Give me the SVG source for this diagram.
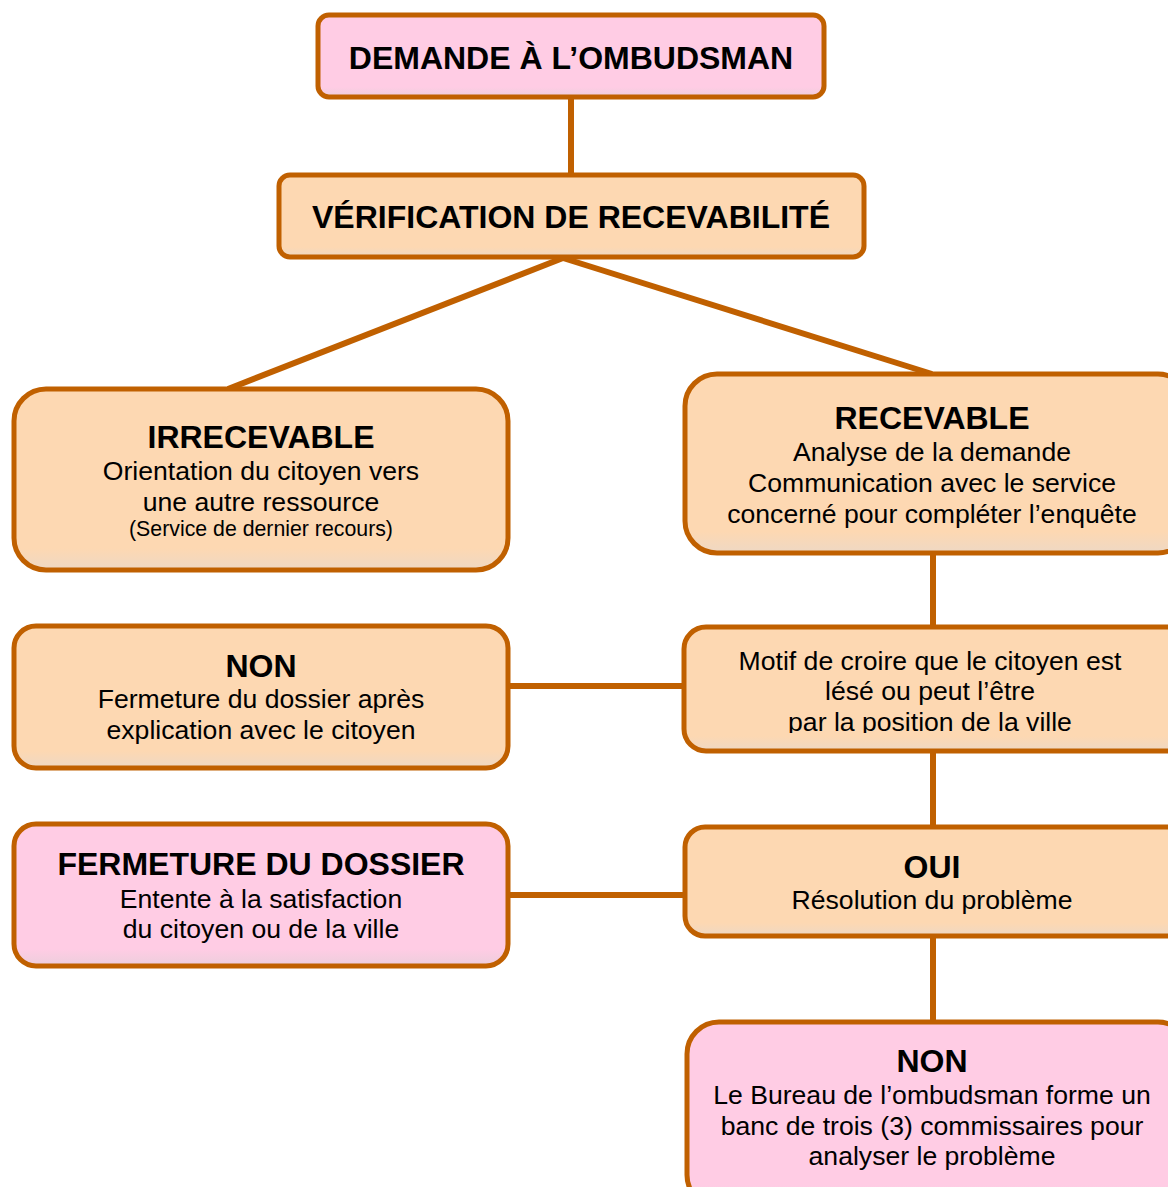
<svg xmlns="http://www.w3.org/2000/svg" width="1168" height="1187" viewBox="0 0 1168 1187">
<defs>
<linearGradient id="gPeach" x1="0" y1="0" x2="0" y2="1">
<stop offset="0" stop-color="#FDD8B2"/>
<stop offset="0.88" stop-color="#FDD8B2"/>
<stop offset="1" stop-color="#EED8C4"/>
</linearGradient>
<linearGradient id="gPink" x1="0" y1="0" x2="0" y2="1">
<stop offset="0" stop-color="#FFCCE4"/>
<stop offset="0.88" stop-color="#FFCCE4"/>
<stop offset="1" stop-color="#ECCEDC"/>
</linearGradient>
<clipPath id="motifClip"><rect x="690" y="632" width="478" height="101"/></clipPath>
<style>
.box{stroke:#C06000;stroke-width:5}
.peach{fill:url(#gPeach)}
.pink{fill:url(#gPink)}
.conn{stroke:#C06000;stroke-width:6;fill:none}
text{font-family:"Liberation Sans",Arial,sans-serif;fill:#000;text-anchor:middle}
.h{font-weight:bold;font-size:32px}
.t{font-size:26.6px}
.s{font-size:21.3px}
</style>
</defs>
<g id="connectors">
<line class="conn" x1="571" y1="97" x2="571" y2="176"/>
<line class="conn" x1="563" y1="258" x2="228" y2="389"/>
<line class="conn" x1="563" y1="258" x2="932" y2="374"/>
<line class="conn" x1="933" y1="553" x2="933" y2="628"/>
<line class="conn" x1="508" y1="686" x2="685" y2="686"/>
<line class="conn" x1="933" y1="750" x2="933" y2="828"/>
<line class="conn" x1="508" y1="895" x2="686" y2="895"/>
<line class="conn" x1="933" y1="936" x2="933" y2="1023"/>
</g>
<g id="demande">
<rect class="box pink" x="318" y="15" width="506" height="82" rx="11"/>
<text class="h" x="571" y="69">DEMANDE À L’OMBUDSMAN</text>
</g>
<g id="verification">
<rect class="box peach" x="279" y="175" width="585" height="82" rx="11"/>
<text class="h" x="571" y="228">VÉRIFICATION DE RECEVABILITÉ</text>
</g>
<g id="irrecevable">
<rect class="box peach" x="14" y="389" width="494" height="181" rx="32"/>
<text class="h" x="261" y="448">IRRECEVABLE</text>
<text class="t" x="261" y="480">Orientation du citoyen vers</text>
<text class="t" x="261" y="511">une autre ressource</text>
<text class="s" x="261" y="536">(Service de dernier recours)</text>
</g>
<g id="recevable">
<rect class="box peach" x="685" y="374" width="505" height="179" rx="32"/>
<text class="h" x="932" y="429">RECEVABLE</text>
<text class="t" x="932" y="461">Analyse de la demande</text>
<text class="t" x="932" y="492">Communication avec le service</text>
<text class="t" x="932" y="523">concerné pour compléter l’enquête</text>
</g>
<g id="non1">
<rect class="box peach" x="14" y="626" width="494" height="142" rx="22"/>
<text class="h" x="261" y="677">NON</text>
<text class="t" x="261" y="708">Fermeture du dossier après</text>
<text class="t" x="261" y="739">explication avec le citoyen</text>
</g>
<g id="motif">
<rect class="box peach" x="684" y="627" width="506" height="124" rx="22"/>
<g clip-path="url(#motifClip)">
<text class="t" x="930" y="670">Motif de croire que le citoyen est</text>
<text class="t" x="930" y="700">lésé ou peut l’être</text>
<text class="t" x="930" y="731">par la position de la ville</text>
</g>
</g>
<g id="fermeture">
<rect class="box pink" x="14" y="824" width="494" height="142" rx="22"/>
<text class="h" x="261" y="875">FERMETURE DU DOSSIER</text>
<text class="t" x="261" y="908">Entente à la satisfaction</text>
<text class="t" x="261" y="938">du citoyen ou de la ville</text>
</g>
<g id="oui">
<rect class="box peach" x="685" y="827" width="505" height="109" rx="20"/>
<text class="h" x="932" y="878">OUI</text>
<text class="t" x="932" y="909">Résolution du problème</text>
</g>
<g id="non2">
<rect class="box pink" x="687" y="1022" width="503" height="185" rx="32"/>
<text class="h" x="932" y="1072">NON</text>
<text class="t" x="932" y="1104">Le Bureau de l’ombudsman forme un</text>
<text class="t" x="932" y="1135">banc de trois (3) commissaires pour</text>
<text class="t" x="932" y="1165">analyser le problème</text>
</g>
</svg>
